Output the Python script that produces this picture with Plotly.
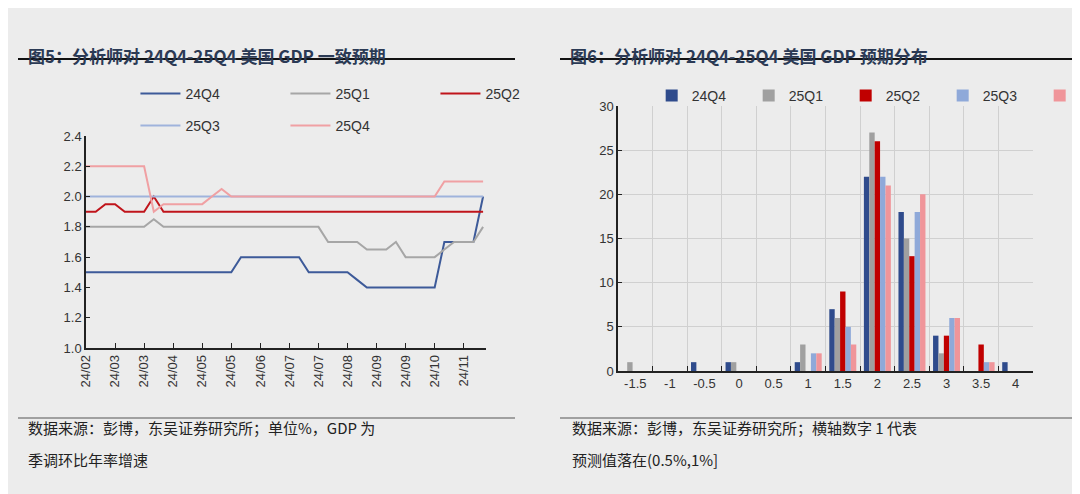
import plotly.graph_objs as go

# Left chart: consensus forecasts (weekly points, label every 3 points)
date_labels = ["24/02", "24/03", "24/03", "24/04", "24/05", "24/05", "24/06",
               "24/07", "24/07", "24/08", "24/09", "24/09", "24/10", "24/11"]

q24q4 = [1.5] * 16 + [1.6] * 7 + [1.5] * 5 + [1.45] + [1.4] * 8 + [1.7] * 4 + [2.0]
q25q1 = [1.8] * 7 + [1.85] + [1.8] * 17 + [1.7] * 4 + [1.65] * 3 + [1.7] + [1.6] * 4 + [1.65] + [1.7] * 3 + [1.8]
q25q2 = [1.9, 1.9, 1.95, 1.95, 1.9, 1.9, 1.9, 2.0] + [1.9] * 34
q25q3 = [2.0] * 42
q25q4 = [2.2] * 7 + [1.9] + [1.95] * 5 + [2.0, 2.05] + [2.0] * 22 + [2.1] * 5

# Right chart: distribution of forecasts
bins = ["-1.5", "-1", "-0.5", "0", "0.5", "1", "1.5", "2", "2.5", "3", "3.5", "4"]
d24q4 = [0, 0, 1, 1, 0, 1, 7, 22, 18, 4, 0, 1]
d25q1 = [1, 0, 0, 1, 0, 3, 6, 27, 15, 2, 0, 0]
d25q2 = [0, 0, 0, 0, 0, 0, 9, 26, 13, 4, 3, 0]
d25q3 = [0, 0, 0, 0, 0, 2, 5, 22, 18, 6, 1, 0]
d25q4 = [0, 0, 0, 0, 0, 2, 3, 21, 20, 6, 1, 0]

names = ["24Q4", "25Q1", "25Q2", "25Q3", "25Q4"]
line_colors = ["#3d5a99", "#a6a6a6", "#c0141b", "#9fb3dc", "#f0a0a3"]
bar_colors = ["#2f4b8c", "#a0a0a0", "#c00000", "#8fa9d9", "#f0959a"]

FONT = "Liberation Sans, Arial"
CJK = "Noto Sans CJK SC"
BG = "#ececec"
TITLE_C = "#2b3a55"

fig = go.Figure()

xs = list(range(len(q24q4)))
for i, (nm, ys) in enumerate(zip(names, [q24q4, q25q1, q25q2, q25q3, q25q4])):
    fig.add_trace(go.Scatter(
        x=xs, y=ys, mode="lines", name=nm,
        line=dict(color=line_colors[i], width=2),
        xaxis="x", yaxis="y",
        legend="legend" if i < 3 else "legend2",
    ))

for i, (nm, ys) in enumerate(zip(names, [d24q4, d25q1, d25q2, d25q3, d25q4])):
    fig.add_trace(go.Bar(
        x=bins, y=ys, name=nm, marker=dict(color=bar_colors[i], line=dict(width=0)),
        xaxis="x2", yaxis="y2", legend="legend3",
    ))

legend_common = dict(orientation="h", bgcolor="rgba(0,0,0,0)",
                     font=dict(family=FONT, size=14, color="#333"),
                     xanchor="left", yanchor="middle", entrywidth=95,
                     itemwidth=40, tracegroupgap=0)

axis_font = dict(family=FONT, size=13, color="#333")

fig.update_layout(
    width=1080, height=494,
    paper_bgcolor=BG, plot_bgcolor=BG,
    margin=dict(l=0, r=0, t=0, b=0, autoexpand=False),
    showlegend=True,
    barmode="group", bargap=0.22, bargroupgap=0,
    legend=dict(x=0.118, y=1 - 86 / 494, **legend_common),
    legend2=dict(x=0.118, y=1 - 118 / 494, **legend_common),
    legend3=dict(x=0.596, y=1 - 88 / 494, **dict(legend_common, entrywidth=52, itemwidth=30)),
    xaxis=dict(domain=[78 / 1080, 478 / 1080], range=[0, 41.3], anchor="y",
               tickvals=[3 * i for i in range(len(date_labels))], ticktext=date_labels,
               tickangle=-90, showgrid=False, zeroline=False,
               showline=True, linecolor="#222", linewidth=1.5,
               ticks="inside", ticklen=5, tickcolor="#222", tickfont=axis_font),
    yaxis=dict(domain=[1 - 340 / 494, 1 - 128 / 494], range=[1.0, 2.4], dtick=0.2,
               anchor="x", tickformat=".1f", showgrid=False, zeroline=False,
               showline=True, linecolor="#222", linewidth=1.5,
               ticks="inside", ticklen=4, tickcolor="#222", tickfont=axis_font),
    xaxis2=dict(domain=[610 / 1080, 1025 / 1080], type="category", anchor="y2",
                tickson="boundaries", showgrid=True, gridcolor="#d0d0d0",
                tickangle=0, showline=True, linecolor="#222", linewidth=1.5,
                ticks="inside", ticklen=5, tickcolor="#222", tickfont=axis_font),
    yaxis2=dict(domain=[1 - 363 / 494, 1 - 98 / 494], range=[0, 30], dtick=5,
                anchor="x2", showgrid=True, gridcolor="#d0d0d0", zeroline=False,
                showline=True, linecolor="#222", linewidth=1.5,
                ticks="inside", ticklen=4, tickcolor="#222", tickfont=axis_font),
)

# titles, rules, source notes
for x0, x1, title in [(10, 507, "图5：分析师对 24Q4-25Q4 美国 GDP 一致预期"),
                      (552, 1072, "图6：分析师对 24Q4-25Q4 美国 GDP 预期分布")]:
    fig.add_annotation(x=(x0 + 8) / 1080, y=1 - 33 / 494, xref="paper", yref="paper",
                       text="<b>" + title + "</b>", showarrow=False, xanchor="left",
                       font=dict(family=CJK, size=17, color=TITLE_C))
    fig.add_shape(type="line", xref="paper", yref="paper",
                  x0=x0 / 1080, x1=x1 / 1080, y0=1 - 51 / 494, y1=1 - 51 / 494,
                  line=dict(color="#111", width=2))
    fig.add_shape(type="line", xref="paper", yref="paper",
                  x0=x0 / 1080, x1=x1 / 1080, y0=1 - 410 / 494, y1=1 - 410 / 494,
                  line=dict(color="#555", width=1))

notes = [(18, "数据来源：彭博，东吴证券研究所；单位%，GDP 为", "季调环比年率增速"),
         (562, "数据来源：彭博，东吴证券研究所；横轴数字 1 代表", "预测值落在(0.5%,1%]")]
for x, l1, l2 in notes:
    fig.add_annotation(x=x / 1080, y=1 - 432 / 494, xref="paper", yref="paper", text=l1,
                       showarrow=False, xanchor="left",
                       font=dict(family=CJK, size=15, color="#222"))
    fig.add_annotation(x=x / 1080, y=1 - 464 / 494, xref="paper", yref="paper", text=l2,
                       showarrow=False, xanchor="left",
                       font=dict(family=CJK, size=15, color="#222"))

fig.write_html("out.html")
